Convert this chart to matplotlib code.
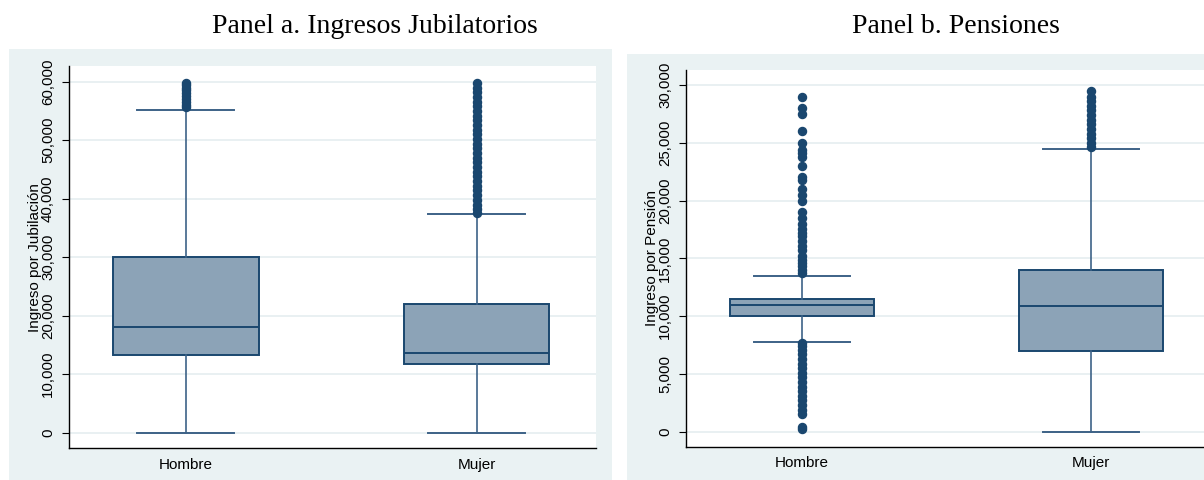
import matplotlib
matplotlib.use('Agg')
import matplotlib.pyplot as plt
from matplotlib.patches import Rectangle
from matplotlib.ticker import FuncFormatter

# ---------------- data ----------------
categories = ['Hombre', 'Mujer']

# Panel a: Ingreso por Jubilación
jub_q1 = [13200, 11800]
jub_med = [18000, 13700]
jub_q3 = [30000, 22000]
jub_whislo = [0, 0]
jub_whishi = [55200, 37300]
jub_out_hombre = [55600, 56000, 56500, 57000, 57500, 58000, 58500, 59000, 59400, 59800]
jub_out_mujer = [37600, 38300, 39000, 39800, 40600, 41400, 42200, 43000, 43800, 44600,
                 45400, 46200, 47000, 47800, 48600, 49400, 50200, 51000, 51800, 52600,
                 53400, 54200, 55000, 55800, 56600, 57400, 58200, 59000, 59800]
jub_ticks = [0, 10000, 20000, 30000, 40000, 50000, 60000]

# Panel b: Ingreso por Pensión
pen_q1 = [10000, 7000]
pen_med = [11000, 10850]
pen_q3 = [11500, 14000]
pen_whislo = [7800, 0]
pen_whishi = [13500, 24500]
pen_out_hombre = [200, 400, 1500, 1900, 2300, 2700, 3100, 3500, 3900, 4300, 4700, 5100,
                  5500, 5900, 6300, 6700, 7100, 7400, 7650,
                  13700, 14000, 14300, 14600, 14900, 15200,
                  15700, 16100, 16500, 16900, 17200, 17500, 18000, 18500, 19000,
                  20000, 20500, 21000, 21800, 22000, 23000, 23800, 24100, 24400,
                  25000, 26000, 27500, 28000, 29000]
pen_out_mujer = [24600, 25000, 25400, 25800, 26200, 26600, 27000, 27400, 27800,
                 28200, 28600, 29000, 29500]
pen_ticks = [0, 5000, 10000, 15000, 20000, 25000, 30000]

titles = ['Panel a. Ingresos Jubilatorios', 'Panel b. Pensiones']
ylabels = ['Ingreso por Jubilación', 'Ingreso por Pensión']

# ---------------- style ----------------
W, H = 1204, 480
BG = '#EAF2F3'
GRID = '#E3ECEF'
NAVY = '#1A476F'
FILL = '#8CA3B7'
WHISK = '#3D6287'

plt.rcParams['font.family'] = ['Liberation Sans', 'DejaVu Sans']

fig = plt.figure(figsize=(W / 100, H / 100), dpi=100, facecolor='white')

# panel backgrounds (pixel boxes: x0, top, x1)
for x0, top, x1 in [(9, 49.3, 612), (627, 54, 1215)]:
    fig.patches.append(Rectangle((x0 / W, 0), (x1 - x0) / W, (H - top) / H,
                                 transform=fig.transFigure, facecolor=BG,
                                 edgecolor='none', zorder=-5))

# axes pixel boxes: left, top, right, bottom
boxes = [(69, 66, 596, 448.3), (686, 70, 1209, 446.7)]
ylims = [(-2667, 62680), (-1298, 31300)]
label_x = [35, 652]


def make_stats(q1, med, q3, lo, hi, outs):
    stats = []
    for i, lab in enumerate(categories):
        stats.append(dict(label=lab, q1=q1[i], med=med[i], q3=q3[i],
                          whislo=lo[i], whishi=hi[i], fliers=outs[i]))
    return stats


panels = [
    make_stats(jub_q1, jub_med, jub_q3, jub_whislo, jub_whishi,
               [jub_out_hombre, jub_out_mujer]),
    make_stats(pen_q1, pen_med, pen_q3, pen_whislo, pen_whishi,
               [pen_out_hombre, pen_out_mujer]),
]
ticks = [jub_ticks, pen_ticks]
title_x = [375, 956]

for k in range(2):
    l, t, r, b = boxes[k]
    ax = fig.add_axes([l / W, (H - b) / H, (r - l) / W, (b - t) / H])
    ax.set_zorder(2)
    ax.set_facecolor('white')
    ax.bxp(panels[k], positions=[1, 2], widths=0.5, capwidths=0.333,
           patch_artist=True, showfliers=True,
           boxprops=dict(facecolor=FILL, edgecolor=NAVY, linewidth=1.4),
           medianprops=dict(color=NAVY, linewidth=1.4),
           whiskerprops=dict(color=WHISK, linewidth=1.2),
           capprops=dict(color=WHISK, linewidth=1.4),
           flierprops=dict(marker='o', markerfacecolor=NAVY, markeredgecolor=NAVY,
                           markersize=5.8, linestyle='none'))
    ax.set_xlim(0.598, 2.41)
    ax.set_ylim(*ylims[k])
    ax.set_yticks(ticks[k])
    ax.yaxis.set_major_formatter(FuncFormatter(lambda v, p: f'{v:,.0f}'))
    ax.yaxis.grid(True, color=GRID, linewidth=1.1)
    ax.set_axisbelow(True)
    for s in ['top', 'right']:
        ax.spines[s].set_visible(False)
    for s in ['left', 'bottom']:
        ax.spines[s].set_color('black')
        ax.spines[s].set_linewidth(1.0)
    ax.tick_params(axis='x', length=0, pad=7, labelsize=11, colors='black')
    ax.tick_params(axis='y', length=5, width=0.8, pad=5, labelsize=10.8,
                   labelrotation=90, colors='black')
    for lab in ax.get_yticklabels():
        lab.set_va('center')
        lab.set_ha('right')
    ax.set_ylabel(ylabels[k], fontsize=11, va='center')
    ax.yaxis.set_label_coords((label_x[k] - l) / (r - l), 0.5)

    fig.text(title_x[k] / W, (H - 33) / H, titles[k], ha='center', va='baseline',
             fontsize=20, family=['Liberation Serif', 'DejaVu Serif'])

fig.savefig('out.png', dpi=100, facecolor='white')
